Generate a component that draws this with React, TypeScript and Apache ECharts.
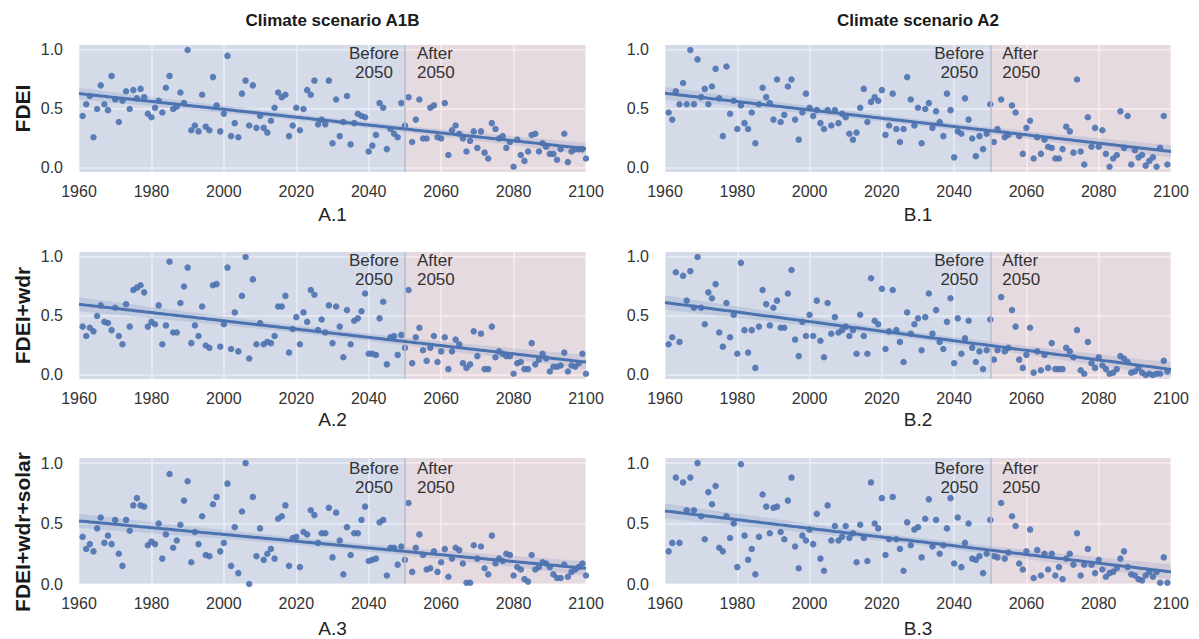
import React, { useEffect, useRef } from "react";
import * as echarts from "echarts";

// ---------------- data ----------------
const START_YEAR = 1961;
const X_MIN = 1960;
const X_MAX = 2100;
const X_STEP = 20;
const Y_TICKS = [0, 0.5, 1.0];
const SPLIT_YEAR = 2050;
const COLUMN_TITLES = ["Climate scenario A1B", "Climate scenario A2"];
const ROW_NAMES = ["FDEI", "FDEI+wdr", "FDEI+wdr+solar"];
const PANEL_LABELS = [["A.1", "B.1"], ["A.2", "B.2"], ["A.3", "B.3"]];
const BEFORE_TEXT = "Before\n2050";
const AFTER_TEXT = "After\n2050";

const A1 = [
  0.44, 0.54, 0.61, 0.26, 0.5, 0.7, 0.54, 0.49, 0.78, 0.58,
  0.39, 0.57, 0.65, 0.5, 0.66, 0.59, 0.67, 0.6, 0.46, 0.43,
  0.51, 0.57, 0.47, 0.68, 0.78, 0.5, 0.52, 0.64, 0.55, 1.0,
  0.32, 0.36, 0.31, 0.62, 0.35, 0.32, 0.77, 0.53, 0.31, 0.46,
  0.95, 0.27, 0.38, 0.26, 0.63, 0.74, 0.36, 0.7, 0.34, 0.44,
  0.34, 0.3, 0.4, 0.51, 0.64, 0.6, 0.62, 0.27, 0.36, 0.51,
  0.32, 0.5, 0.66, 0.62, 0.74, 0.37, 0.41, 0.37, 0.74,
  0.21, 0.58, 0.27, 0.39, 0.61, 0.2, 0.38, 0.46, 0.44, 0.43,
  0.14, 0.19, 0.28, 0.55, 0.51, 0.16, 0.33, 0.29, 0.26, 0.55,
  0.36, 0.6, 0.22, 0.41, 0.58, 0.25, 0.25, 0.51, 0.53, 0.26,
  0.25, 0.55, 0.11, 0.32, 0.36, 0.29, 0.25, 0.14, 0.23, 0.31,
  0.17, 0.31, 0.13, 0.08, 0.38, 0.33, 0.25, 0.27, 0.17, 0.22,
  0.01, 0.24, 0.11, 0.06, 0.14, 0.28, 0.29, 0.14, 0.21, 0.18,
  0.12, 0.12, 0.07, 0.16, 0.29, 0.05, 0.14, 0.16, 0.16, 0.16, 0.08,
];

const A2 = [
  0.41, 0.33, 0.4, 0.37, 0.5, 0.59, 0.45, 0.44, 0.38, 0.57,
  0.33, 0.26, 0.6, 0.41, 0.72, 0.74, 0.76, 0.7, 0.41, 0.45,
  0.43, 0.59, 0.26, 0.42, 0.96, 0.36, 0.36, 0.61, 0.75, 0.91,
  0.27, 0.42, 0.33, 0.58, 0.25, 0.23, 0.76, 0.77, 0.24, 0.43,
  0.91, 0.22, 0.53, 0.2, 0.67, 1.0, 0.14, 0.81, 0.26, 0.44,
  0.26, 0.28, 0.27, 0.33, 0.58, 0.58, 0.67, 0.19, 0.39, 0.49,
  0.26, 0.53, 0.45, 0.72, 0.68, 0.38, 0.47, 0.36, 0.59,
  0.27, 0.58, 0.41, 0.15, 0.55, 0.26, 0.46, 0.48, 0.54, 0.69,
  0.18, 0.18, 0.17, 0.48, 0.62, 0.09, 0.32, 0.33, 0.17, 0.34,
  0.23, 0.72, 0.1, 0.32, 0.4, 0.21, 0.12, 0.23, 0.33, 0.11,
  0.2, 0.32, 0.05, 0.2, 0.3, 0.26, 0.1, 0.06, 0.09, 0.37,
  0.16, 0.35, 0.05, 0.05, 0.41, 0.15, 0.2, 0.18, 0.16, 0.16,
  0.01, 0.1, 0.11, 0.05, 0.05, 0.27, 0.09, 0.13, 0.18, 0.14,
  0.03, 0.07, 0.07, 0.08, 0.19, 0.03, 0.08, 0.07, 0.1, 0.18, 0.01,
];

const A3 = [
  0.39, 0.29, 0.33, 0.27, 0.46, 0.55, 0.34, 0.4, 0.33, 0.53,
  0.25, 0.15, 0.53, 0.44, 0.65, 0.71, 0.65, 0.64, 0.32, 0.35,
  0.33, 0.5, 0.21, 0.41, 0.91, 0.3, 0.36, 0.49, 0.69, 0.85,
  0.18, 0.43, 0.33, 0.56, 0.24, 0.23, 0.66, 0.72, 0.27, 0.34,
  0.83, 0.15, 0.47, 0.09, 0.6, 1.0, 0.0, 0.72, 0.23, 0.46,
  0.2, 0.25, 0.29, 0.21, 0.54, 0.56, 0.65, 0.15, 0.38, 0.39,
  0.14, 0.43, 0.41, 0.61, 0.57, 0.34, 0.42, 0.42, 0.63,
  0.22, 0.59, 0.36, 0.08, 0.47, 0.24, 0.42, 0.42, 0.53, 0.64,
  0.19, 0.2, 0.21, 0.51, 0.53, 0.07, 0.3, 0.3, 0.16, 0.31,
  0.2, 0.67, 0.1, 0.3, 0.41, 0.24, 0.12, 0.13, 0.27, 0.1,
  0.18, 0.29, 0.06, 0.21, 0.3, 0.28, 0.17, 0.01, 0.01, 0.32,
  0.21, 0.31, 0.13, 0.08, 0.4, 0.17, 0.21, 0.19, 0.25, 0.24,
  0.07, 0.14, 0.12, 0.04, 0.02, 0.24, 0.12, 0.14, 0.18, 0.17,
  0.14, 0.08, 0.05, 0.05, 0.16, 0.06, 0.1, 0.12, 0.14, 0.17, 0.07,
];

const B1 = [
  0.47, 0.41, 0.65, 0.54, 0.72, 0.54, 1.0, 0.54, 0.92, 0.6,
  0.67, 0.54, 0.69, 0.84, 0.59, 0.27, 0.86, 0.46, 0.57, 0.33,
  0.53, 0.38, 0.33, 0.47, 0.21, 0.54, 0.68, 0.6, 0.55, 0.41,
  0.75, 0.39, 0.45, 0.69, 0.75, 0.41, 0.24, 0.47, 0.63, 0.51,
  0.44, 0.49, 0.38, 0.33, 0.49, 0.36, 0.49, 0.38, 0.46, 0.43,
  0.29, 0.24, 0.3, 0.51, 0.67, 0.39, 0.56, 0.6, 0.57, 0.66,
  0.28, 0.36, 0.63, 0.33, 0.22, 0.33, 0.77, 0.58, 0.36, 0.51,
  0.21, 0.5, 0.55,
  0.34, 0.48, 0.39, 0.27, 0.63, 0.49, 0.09,
  0.31, 0.29, 0.59, 0.41, 0.25, 0.1, 0.27, 0.16, 0.29, 0.54,
  0.22, 0.33, 0.58, 0.26, 0.28, 0.53, 0.47, 0.27, 0.12, 0.34,
  0.4, 0.08, 0.26, 0.12, 0.24, 0.18, 0.17, 0.08, 0.08, 0.16,
  0.35, 0.31, 0.13, 0.75, 0.14, 0.03, 0.43, 0.18, 0.34, 0.18,
  0.32, 0.12, 0.01, 0.08, 0.11, 0.48, 0.17, 0.44, 0.03, 0.15,
  0.09, 0.11, 0.02, 0.06, 0.09, 0.01, 0.17, 0.44, 0.03,
];

const B2 = [
  0.26, 0.32, 0.87, 0.28, 0.84, 0.63, 0.88, 0.57, 1.0, 0.57,
  0.43, 0.7, 0.65, 0.77, 0.36, 0.24, 0.61, 0.32, 0.51, 0.18,
  0.95, 0.38, 0.19, 0.38, 0.06, 0.41, 0.72, 0.6, 0.42, 0.57,
  0.63, 0.4, 0.4, 0.69, 0.89, 0.3, 0.16, 0.45, 0.33, 0.51,
  0.33, 0.63, 0.29, 0.15, 0.61, 0.35, 0.49, 0.36, 0.38, 0.41,
  0.33, 0.38, 0.18, 0.51, 0.33, 0.18, 0.82, 0.46, 0.43, 0.73,
  0.22, 0.37, 0.72, 0.38, 0.28, 0.11, 0.53, 0.35, 0.43, 0.48,
  0.21, 0.49, 0.69,
  0.35, 0.55, 0.28, 0.22, 0.45, 0.65, 0.1,
  0.48, 0.18, 0.31, 0.46, 0.23, 0.11, 0.2, 0.05, 0.21, 0.47,
  0.13, 0.21, 0.66, 0.2, 0.23, 0.55, 0.41, 0.13, 0.06, 0.17,
  0.4, 0.02, 0.2, 0.04, 0.17, 0.06, 0.27, 0.05, 0.05, 0.05,
  0.23, 0.2, 0.15, 0.38, 0.04, 0.01, 0.28, 0.1, 0.06, 0.15,
  0.08, 0.05, 0.01, 0.02, 0.05, 0.16, 0.14, 0.11, 0.02, 0.03,
  0.06, 0.02, 0.0, 0.01, 0.0, 0.01, 0.01, 0.12, 0.03,
];

const B3 = [
  0.27, 0.34, 0.88, 0.34, 0.84, 0.61, 0.88, 0.61, 1.0, 0.56,
  0.37, 0.76, 0.66, 0.81, 0.3, 0.27, 0.56, 0.38, 0.5, 0.14,
  0.99, 0.4, 0.2, 0.29, 0.08, 0.39, 0.74, 0.64, 0.42, 0.63,
  0.64, 0.43, 0.37, 0.69, 0.88, 0.31, 0.13, 0.4, 0.36, 0.45,
  0.33, 0.58, 0.21, 0.11, 0.65, 0.36, 0.48, 0.36, 0.39, 0.48,
  0.38, 0.42, 0.18, 0.49, 0.38, 0.19, 0.84, 0.5, 0.46, 0.71,
  0.24, 0.37, 0.72, 0.37, 0.29, 0.11, 0.51, 0.32, 0.45, 0.47,
  0.22, 0.54, 0.7,
  0.31, 0.53, 0.25, 0.32, 0.46, 0.71, 0.17,
  0.55, 0.14, 0.34, 0.5, 0.21, 0.2, 0.23, 0.09, 0.25, 0.53,
  0.23, 0.22, 0.67, 0.21, 0.26, 0.56, 0.48, 0.17, 0.12, 0.27,
  0.45, 0.05, 0.28, 0.07, 0.25, 0.12, 0.25, 0.07, 0.14, 0.04,
  0.21, 0.25, 0.16, 0.42, 0.07, 0.16, 0.29, 0.16, 0.09, 0.2,
  0.12, 0.06, 0.09, 0.1, 0.13, 0.21, 0.27, 0.14, 0.08, 0.07,
  0.04, 0.03, 0.07, 0.1, 0.06, 0.1, 0.01, 0.22, 0.01,
];

const PANEL_DATA = [
  [A1, B1],
  [A2, B2],
  [A3, B3],
];

// ---------------- layout / style ----------------
const FONT = '"Liberation Sans", Arial, Helvetica, sans-serif';
const COL_LEFT = [79, 665];
const COL_WIDTH = [507, 506];
const ROW_TOP = [45, 252, 458];
const ROW_HEIGHT = 127;
const ROW_YMIN = [-0.034, -0.034, 0];
const Y_MAX = 1.042;
const ROW_NAME_GAP = [33, 31, 35];
const ROW_NAME_PAD = [[0, 0, 0, 0], [0, 0, 0, 0], [0, 22, 0, 0]];
const LABEL_Y = [0.89, 0.89, 0.88];

const POINT_COLOR = "#4C72B0";
const BG_COLOR = "#EAEAF2";
const BEFORE_FILL = "rgba(76,114,176,0.13)";
const AFTER_FILL = "rgba(196,78,82,0.10)";

function regression(xs: number[], ys: number[]) {
  const n = xs.length;
  let mx = 0, my = 0;
  for (let i = 0; i < n; i++) { mx += xs[i]; my += ys[i]; }
  mx /= n; my /= n;
  let sxx = 0, sxy = 0;
  for (let i = 0; i < n; i++) {
    sxx += (xs[i] - mx) ** 2;
    sxy += (xs[i] - mx) * (ys[i] - my);
  }
  const b = sxy / sxx;
  const a = my - b * mx;
  let sse = 0;
  for (let i = 0; i < n; i++) sse += (ys[i] - (a + b * xs[i])) ** 2;
  const s = Math.sqrt(sse / (n - 2));
  const t = 1.977;
  const line: number[][] = [];
  const band: number[][] = [];
  for (let x = X_MIN; x <= X_MAX; x += 1) {
    const yh = a + b * x;
    const se = s * Math.sqrt(1 / n + (x - mx) ** 2 / sxx);
    line.push([x, yh]);
    band.push([x, yh - t * se, yh + t * se]);
  }
  return { line, band };
}

function buildOption() {
  const grid: any[] = [];
  const xAxis: any[] = [];
  const yAxis: any[] = [];
  const series: any[] = [];
  const graphic: any[] = [];

  COLUMN_TITLES.forEach((t, c) => {
    graphic.push({
      type: "text",
      x: COL_LEFT[c] + COL_WIDTH[c] / 2,
      y: 20,
      style: {
        text: t,
        fontSize: 17,
        fontWeight: "bold",
        fontFamily: FONT,
        fill: "#1a1a1a",
        textAlign: "center",
        textVerticalAlign: "middle",
      },
    });
  });

  for (let r = 0; r < 3; r++) {
    for (let c = 0; c < 2; c++) {
      const gi = r * 2 + c;
      const values = PANEL_DATA[r][c];
      const xs = values.map((_, i) => START_YEAR + i);
      const { line, band } = regression(xs, values);

      grid.push({
        left: COL_LEFT[c],
        top: ROW_TOP[r],
        width: COL_WIDTH[c],
        height: ROW_HEIGHT,
        show: true,
        backgroundColor: BG_COLOR,
        borderWidth: 0,
      });
      xAxis.push({
        type: "value",
        gridIndex: gi,
        min: X_MIN,
        max: X_MAX,
        interval: X_STEP,
        axisLine: { show: false },
        axisTick: { show: false },
        axisLabel: {
          fontSize: 16,
          color: "#333",
          margin: 11,
          fontFamily: FONT,
          showMinLabel: true,
          showMaxLabel: true,
          formatter: (v: number) => String(v),
        },
        splitLine: { show: true, lineStyle: { color: "#ffffff", width: 1.5 } },
        name: PANEL_LABELS[r][c],
        nameLocation: "middle",
        nameGap: ROW_NAME_GAP[r],
        nameTextStyle: { fontSize: 19, color: "#222", fontFamily: FONT },
      });
      yAxis.push({
        type: "value",
        gridIndex: gi,
        min: ROW_YMIN[r],
        max: Y_MAX,
        axisLine: { show: false },
        axisTick: { show: false, customValues: Y_TICKS },
        axisLabel: {
          customValues: Y_TICKS,
          formatter: (v: number) => v.toFixed(1),
          fontSize: 16,
          color: "#333",
          margin: 16,
          fontFamily: FONT,
        },
        splitLine: { show: true, lineStyle: { color: "#ffffff", width: 1.5 } },
        name: c === 0 ? ROW_NAMES[r] : "",
        nameLocation: "middle",
        nameRotate: 90,
        nameGap: 46,
        nameTextStyle: {
          fontSize: 21,
          fontWeight: "bold",
          color: "#1a1a1a",
          fontFamily: FONT,
          padding: ROW_NAME_PAD[r],
        },
      });

      // background spans, 2050 line, before/after labels
      series.push({
        type: "line",
        xAxisIndex: gi,
        yAxisIndex: gi,
        data: [[X_MIN, 0], [X_MAX, 0]],
        showSymbol: false,
        lineStyle: { opacity: 0, width: 0 },
        silent: true,
        z: 1,
        markArea: {
          silent: true,
          data: [
            [{ xAxis: X_MIN, itemStyle: { color: BEFORE_FILL } }, { xAxis: SPLIT_YEAR }],
            [{ xAxis: SPLIT_YEAR, itemStyle: { color: AFTER_FILL } }, { xAxis: X_MAX }],
          ],
        },
        markLine: {
          silent: true,
          symbol: ["none", "none"],
          label: { show: false },
          lineStyle: { color: "#b9bccb", width: 1.5, type: "solid" },
          data: [{ xAxis: SPLIT_YEAR }],
        },
        markPoint: {
          silent: true,
          symbol: "circle",
          symbolSize: 0,
          data: [
            {
              coord: [SPLIT_YEAR, LABEL_Y[r]],
              label: {
                show: true,
                formatter: BEFORE_TEXT,
                position: [-31, 0],
                align: "center",
                verticalAlign: "middle",
                fontSize: 17,
                lineHeight: 19,
                color: "#333",
                fontFamily: FONT,
              },
            },
            {
              coord: [SPLIT_YEAR, LABEL_Y[r]],
              label: {
                show: true,
                formatter: AFTER_TEXT,
                position: [12, 0],
                align: "left",
                verticalAlign: "middle",
                fontSize: 17,
                lineHeight: 19,
                color: "#333",
                fontFamily: FONT,
              },
            },
          ],
        },
      });

      series.push({
        type: "scatter",
        xAxisIndex: gi,
        yAxisIndex: gi,
        data: values.map((v, i) => [xs[i], v]),
        symbolSize: 6.5,
        itemStyle: { color: POINT_COLOR, opacity: 0.9 },
        silent: true,
        z: 3,
      });

      series.push({
        type: "custom",
        xAxisIndex: gi,
        yAxisIndex: gi,
        data: band,
        encode: { x: 0, y: [1, 2] },
        clip: true,
        silent: true,
        z: 4,
        renderItem: (params: any, api: any) => {
          if (params.dataIndex !== 0) return { type: "group", children: [] };
          const pts: number[][] = [];
          for (const d of band) pts.push(api.coord([d[0], d[1]]));
          for (let i = band.length - 1; i >= 0; i--) pts.push(api.coord([band[i][0], band[i][2]]));
          return {
            type: "polygon",
            shape: { points: pts },
            style: { fill: "rgba(76,114,176,0.16)" },
          };
        },
      });

      series.push({
        type: "line",
        xAxisIndex: gi,
        yAxisIndex: gi,
        data: line,
        showSymbol: false,
        symbol: "none",
        lineStyle: { color: POINT_COLOR, width: 3 },
        silent: true,
        z: 5,
      });
    }
  }

  return {
    animation: false,
    backgroundColor: "#ffffff",
    textStyle: { fontFamily: FONT },
    grid,
    xAxis,
    yAxis,
    series,
    graphic,
  };
}

export default function App() {
  const ref = useRef<HTMLDivElement>(null);
  useEffect(() => {
    if (!ref.current) return;
    const chart = echarts.init(ref.current, undefined, { renderer: "svg" });
    chart.setOption(buildOption() as any);
    return () => chart.dispose();
  }, []);
  return (
    <div
      ref={ref}
      style={{ position: "absolute", left: 0, top: 0, width: 1199, height: 639 }}
    />
  );
}
